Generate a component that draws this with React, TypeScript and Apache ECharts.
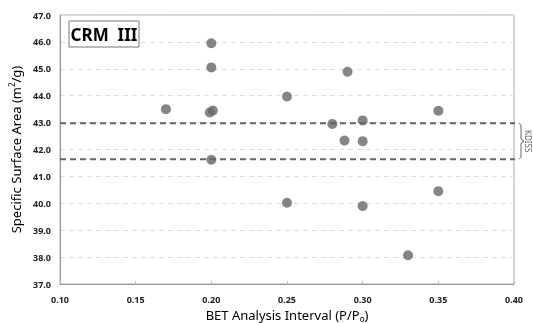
import React, { useEffect, useRef } from "react";
import * as echarts from "echarts";

const xValues = [0.17, 0.2, 0.2, 0.199, 0.201, 0.2, 0.25, 0.25, 0.28, 0.29, 0.288, 0.3, 0.3, 0.3, 0.33, 0.35, 0.35];
const yValues = [43.5, 45.95, 45.05, 43.38, 43.45, 41.62, 43.97, 40.02, 42.95, 44.89, 42.33, 43.08, 42.31, 39.9, 38.07, 43.44, 40.45];
const refLines = [42.98, 41.64];
const xTicks = { min: 0.1, max: 0.4, interval: 0.05 };
const yTicks = { min: 37, max: 47, interval: 1 };
const labelText = "CRM  III";
const bracketText = "KDISS";

export default function App() {
  const ref = useRef<HTMLDivElement>(null);
  useEffect(() => {
    if (!ref.current) return;
    const chart = echarts.init(ref.current, null, { renderer: "svg" });
    const font = "'Noto Sans', sans-serif";
    const points = xValues.map((x, i) => [x, yValues[i]]);
    const lineSeries = refLines.map((v) => ({
      type: "line",
      data: [
        [xTicks.min, v],
        [0.4027, v],
      ],
      symbol: "none",
      clip: false,
      silent: true,
      lineStyle: { color: "#666", width: 2, type: [6, 4] },
      z: 3,
    }));
    chart.setOption({
      animation: false,
      grid: {
        left: 60,
        right: 19,
        top: 15,
        bottom: 39,
        show: true,
        borderColor: "#aaa",
        borderWidth: 1,
        outerBoundsMode: "none",
      },
      xAxis: {
        type: "value",
        min: xTicks.min,
        max: xTicks.max,
        interval: xTicks.interval,
        name: "BET Analysis Interval (P/P{sub|o})",
        nameLocation: "middle",
        nameGap: 20,
        nameTextStyle: {
          fontFamily: font,
          fontSize: 13,
          color: "#000",
          rich: { sub: { fontSize: 8, verticalAlign: "bottom", padding: [7, 0, 0, 0], fontFamily: font } },
        },
        axisLine: { lineStyle: { color: "#999" } },
        axisTick: { show: true, inside: true, length: 3, lineStyle: { color: "#bbb" } },
        axisLabel: {
          fontFamily: font,
          fontSize: 9,
          fontWeight: "bold",
          color: "#222",
          margin: 11,
          formatter: (v: number) => v.toFixed(2),
        },
        splitLine: { show: false },
      },
      yAxis: {
        type: "value",
        min: yTicks.min,
        max: yTicks.max,
        interval: yTicks.interval,
        name: "Specific Surface Area (m{sup|2}/g)",
        nameLocation: "middle",
        nameRotate: 90,
        nameGap: 35,
        nameTextStyle: {
          fontFamily: font,
          fontSize: 13,
          color: "#000",
          rich: { sup: { fontSize: 8, verticalAlign: "top", padding: [0, 0, 8, 0], fontFamily: font } },
        },
        axisLine: { show: true, lineStyle: { color: "#999" } },
        axisTick: { show: false },
        axisLabel: {
          fontFamily: font,
          fontSize: 9,
          fontWeight: "bold",
          color: "#222",
          margin: 9,
          formatter: (v: number) => v.toFixed(1),
        },
        splitLine: { show: true, lineStyle: { color: "#ddd", type: [5, 4] } },
      },
      series: [
        ...lineSeries,
        {
          type: "scatter",
          data: points,
          symbol: "circle",
          symbolSize: 10,
          itemStyle: { color: "#666" },
          z: 5,
        },
      ],
    });

    const top = chart.convertToPixel({ gridIndex: 0 }, [xTicks.max, refLines[0]]) as number[];
    const bot = chart.convertToPixel({ gridIndex: 0 }, [xTicks.max, refLines[1]]) as number[];
    const bx = top[0] + 5;
    const y1 = top[1];
    const y2 = bot[1];
    const ym = (y1 + y2) / 2;
    chart.setOption({
      graphic: [
        {
          type: "rect",
          shape: { x: 69, y: 21, width: 70, height: 26 },
          style: { fill: "#fff", stroke: "#777", lineWidth: 1 },
          z: 10,
        },
        {
          type: "text",
          x: 104,
          y: 34,
          style: {
            text: labelText,
            fontFamily: font,
            fontSize: 17,
            fontWeight: "bold",
            fill: "#000",
            align: "center",
            verticalAlign: "middle",
          },
          z: 11,
        },
        {
          type: "polyline",
          shape: {
            points: [
              [bx, y1],
              [bx + 2, y1 + 2],
              [bx + 2, ym - 2],
              [bx + 5, ym],
              [bx + 2, ym + 2],
              [bx + 2, y2 - 2],
              [bx, y2],
            ],
          },
          style: { stroke: "#666", lineWidth: 1, fill: null },
        },
        {
          type: "text",
          x: bx + 9,
          y: ym,
          rotation: -Math.PI / 2,
          style: {
            text: bracketText,
            fontFamily: font,
            fontSize: 8,
            fill: "#666",
            align: "center",
            verticalAlign: "middle",
          },
        },
      ],
    });
    return () => chart.dispose();
  }, []);
  return <div ref={ref} style={{ position: "fixed", left: 0, top: 0, width: 533, height: 323 }} />;
}
